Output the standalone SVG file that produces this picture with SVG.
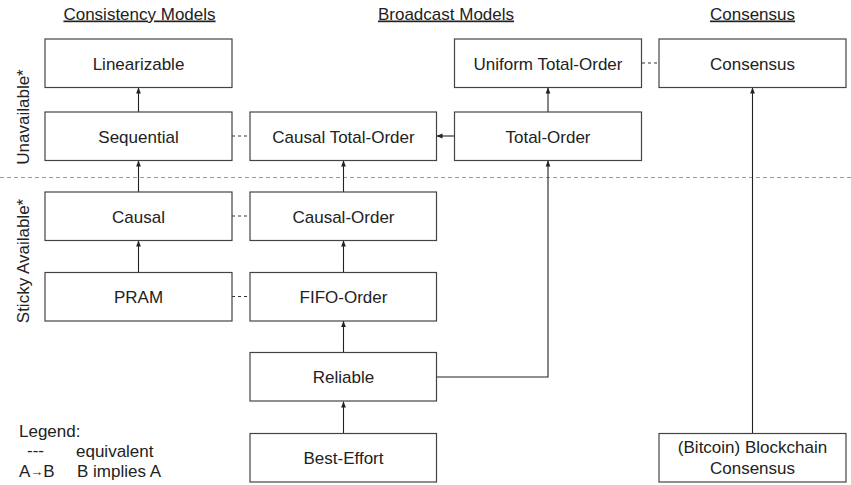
<svg xmlns="http://www.w3.org/2000/svg" width="851" height="485" viewBox="0 0 851 485">
  <style>
    text { font-family: "Liberation Sans", Arial, sans-serif; font-size: 17px; fill: #222; }
    .node rect { fill: #fff; stroke: #444; stroke-width: 1.2; }
    .node text { text-anchor: middle; }
    .hdr { text-anchor: middle; text-decoration: underline; }
    .arrow { fill: none; stroke: #222; stroke-width: 1.1; marker-end: url(#head); }
    .equiv { fill: none; stroke: #333; stroke-width: 1; stroke-dasharray: 3 3; }
    .sep { stroke: #999; stroke-width: 1; stroke-dasharray: 4 3; }
    .side { text-anchor: middle; }
  </style>
  <defs>
    <marker id="head" viewBox="0 0 6 6" refX="6" refY="3" markerWidth="6" markerHeight="6" markerUnits="userSpaceOnUse" orient="auto">
      <path d="M0,0.6 L6,3 L0,5.4 Z" fill="#222"/>
    </marker>
  </defs>
  <rect width="851" height="485" fill="#fff"/>

  <!-- column headers -->
  <text class="hdr" x="139.5" y="19.5">Consistency Models</text>
  <text class="hdr" x="446" y="19.5">Broadcast Models</text>
  <text class="hdr" x="752.5" y="19.5">Consensus</text>

  <!-- availability bands -->
  <line class="sep" x1="0" y1="177.5" x2="851" y2="177.5"/>
  <text class="side" transform="translate(29,117) rotate(-90)">Unavailable*</text>
  <text class="side" transform="translate(29,261) rotate(-90)">Sticky Available*</text>

  <!-- connectors -->
  <g id="connectors">
    <line class="arrow" x1="138.5" y1="112" x2="138.5" y2="87.5"/>
    <line class="arrow" x1="138.5" y1="192" x2="138.5" y2="160.5"/>
    <line class="arrow" x1="138.5" y1="272" x2="138.5" y2="240.5"/>
    <line class="arrow" x1="343.5" y1="192" x2="343.5" y2="160.5"/>
    <line class="arrow" x1="343.5" y1="272" x2="343.5" y2="240.5"/>
    <line class="arrow" x1="343.5" y1="352.5" x2="343.5" y2="321"/>
    <line class="arrow" x1="343.5" y1="433.5" x2="343.5" y2="401.5"/>
    <line class="arrow" x1="454" y1="136" x2="436.5" y2="136"/>
    <line class="arrow" x1="548" y1="112" x2="548" y2="87.5"/>
    <path class="arrow" d="M436.5,377 H548 V160.5"/>
    <line class="arrow" x1="752.5" y1="433.5" x2="752.5" y2="87.5"/>
    <line class="equiv" x1="232" y1="136" x2="250" y2="136"/>
    <line class="equiv" x1="232" y1="216" x2="250" y2="216"/>
    <line class="equiv" x1="232" y1="296.5" x2="250" y2="296.5"/>
    <line class="equiv" x1="642" y1="63" x2="659" y2="63"/>
  </g>

  <!-- consistency models -->
  <g id="linearizable" class="node"><rect x="45" y="39" width="187" height="48.5"/><text x="138.5" y="69.5">Linearizable</text></g>
  <g id="sequential" class="node"><rect x="45" y="112" width="187" height="48.5"/><text x="138.5" y="142.5">Sequential</text></g>
  <g id="causal" class="node"><rect x="45" y="192" width="187" height="48.5"/><text x="138.5" y="222.5">Causal</text></g>
  <g id="pram" class="node"><rect x="45" y="272.5" width="187" height="48.5"/><text x="138.5" y="303">PRAM</text></g>

  <!-- broadcast models -->
  <g id="causal-total-order" class="node"><rect x="250" y="112" width="186.5" height="48.5"/><text x="343.5" y="142.5">Causal Total-Order</text></g>
  <g id="causal-order" class="node"><rect x="250" y="192" width="186.5" height="48.5"/><text x="343.5" y="222.5">Causal-Order</text></g>
  <g id="fifo-order" class="node"><rect x="250" y="272.5" width="186.5" height="48.5"/><text x="343.5" y="303">FIFO-Order</text></g>
  <g id="reliable" class="node"><rect x="250" y="352.5" width="186.5" height="48.5"/><text x="343.5" y="383">Reliable</text></g>
  <g id="best-effort" class="node"><rect x="250" y="433.5" width="186.5" height="48.5"/><text x="343.5" y="464">Best-Effort</text></g>
  <g id="uniform-total-order" class="node"><rect x="454.5" y="39" width="187" height="48.5"/><text x="548" y="69.5">Uniform Total-Order</text></g>
  <g id="total-order" class="node"><rect x="454.5" y="112" width="187" height="48.5"/><text x="548" y="142.5">Total-Order</text></g>

  <!-- consensus -->
  <g id="consensus" class="node"><rect x="659" y="39" width="187" height="48.5"/><text x="752.5" y="69.5">Consensus</text></g>
  <g id="blockchain-consensus" class="node"><rect x="659" y="433.5" width="187" height="48.5"/><text x="752.5" y="453">(Bitcoin) Blockchain</text><text x="752.5" y="474">Consensus</text></g>

  <!-- legend -->
  <g id="legend">
    <text x="19" y="437">Legend:</text>
    <text x="27" y="456">---</text>
    <text x="76" y="457">equivalent</text>
    <text x="19" y="477">A<tspan font-size="13" dy="-1">→</tspan><tspan dy="1">B</tspan></text>
    <text x="77" y="477">B implies A</text>
  </g>
</svg>
